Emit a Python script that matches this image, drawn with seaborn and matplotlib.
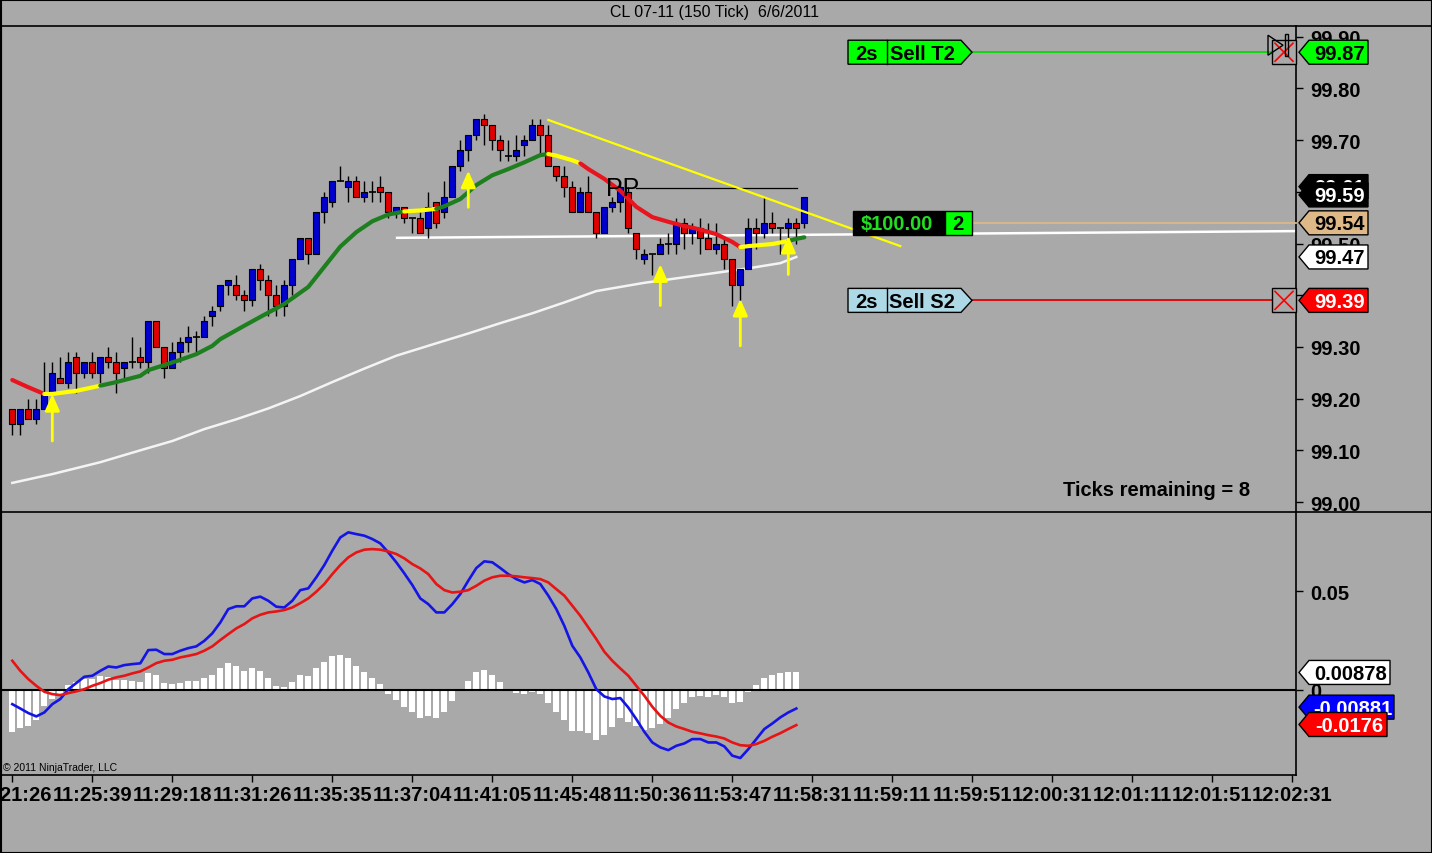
import numpy as np
import pandas as pd
import matplotlib
matplotlib.use("Agg")
import matplotlib.pyplot as plt
import seaborn as sns
from matplotlib import font_manager as fm
from matplotlib.patches import Polygon, Rectangle
from matplotlib.lines import Line2D
from matplotlib.transforms import IdentityTransform

# ---------------- data ----------------
opens = [99.18, 99.15, 99.18, 99.16, 99.18, 99.21, 99.24, 99.23, 99.28, 99.25,
         99.27, 99.25, 99.28, 99.27, 99.26, 99.27, 99.28, 99.27, 99.35, 99.30,
         99.26, 99.29, 99.31, 99.32, 99.32, 99.36, 99.38, 99.42, 99.42, 99.40,
         99.39, 99.45, 99.43, 99.40, 99.38, 99.42, 99.47, 99.51, 99.48, 99.56,
         99.58, 99.62, 99.61, 99.62, 99.59, 99.60, 99.61, 99.60, 99.56, 99.57,
         99.55, 99.55, 99.53, 99.58, 99.56, 99.59, 99.65, 99.68, 99.71, 99.74,
         99.73, 99.70, 99.67, 99.67, 99.69, 99.70, 99.73, 99.71, 99.65, 99.63,
         99.61, 99.56, 99.60, 99.56, 99.52, 99.57, 99.58, 99.60, 99.52, 99.47,
         99.48, 99.48, 99.50, 99.50, 99.54, 99.52, 99.53, 99.51, 99.49, 99.50,
         99.47, 99.42, 99.45, 99.53, 99.52, 99.54, 99.53, 99.53, 99.54, 99.54]
highs = [99.18, 99.18, 99.20, 99.20, 99.27, 99.27, 99.28, 99.29, 99.29, 99.27,
         99.29, 99.28, 99.30, 99.29, 99.27, 99.32, 99.30, 99.35, 99.35, 99.30,
         99.31, 99.32, 99.34, 99.33, 99.36, 99.38, 99.42, 99.43, 99.44, 99.41,
         99.45, 99.46, 99.44, 99.42, 99.43, 99.47, 99.51, 99.51, 99.56, 99.60,
         99.62, 99.65, 99.63, 99.63, 99.62, 99.62, 99.63, 99.60, 99.57, 99.57,
         99.55, 99.56, 99.60, 99.58, 99.62, 99.65, 99.70, 99.71, 99.74, 99.75,
         99.73, 99.71, 99.70, 99.71, 99.71, 99.74, 99.74, 99.73, 99.65, 99.65,
         99.62, 99.61, 99.63, 99.56, 99.57, 99.59, 99.62, 99.61, 99.52, 99.49,
         99.48, 99.51, 99.52, 99.55, 99.55, 99.54, 99.55, 99.54, 99.54, 99.51,
         99.47, 99.45, 99.55, 99.55, 99.59, 99.56, 99.53, 99.55, 99.55, 99.59]
lows = [99.13, 99.13, 99.16, 99.15, 99.18, 99.21, 99.23, 99.22, 99.21, 99.24,
        99.24, 99.23, 99.26, 99.21, 99.24, 99.26, 99.26, 99.25, 99.30, 99.24,
        99.26, 99.27, 99.29, 99.29, 99.32, 99.34, 99.37, 99.40, 99.39, 99.37,
        99.38, 99.41, 99.36, 99.36, 99.36, 99.40, 99.47, 99.46, 99.48, 99.54,
        99.57, 99.62, 99.58, 99.59, 99.58, 99.58, 99.58, 99.55, 99.55, 99.54,
        99.52, 99.52, 99.51, 99.53, 99.55, 99.59, 99.64, 99.66, 99.70, 99.69,
        99.68, 99.66, 99.66, 99.66, 99.67, 99.70, 99.67, 99.65, 99.62, 99.59,
        99.56, 99.56, 99.56, 99.51, 99.52, 99.56, 99.56, 99.52, 99.47, 99.46,
        99.44, 99.48, 99.48, 99.48, 99.49, 99.50, 99.48, 99.49, 99.48, 99.45,
        99.38, 99.39, 99.45, 99.49, 99.51, 99.52, 99.48, 99.51, 99.50, 99.53]
closes = [99.15, 99.18, 99.16, 99.18, 99.21, 99.25, 99.23, 99.27, 99.25, 99.27,
          99.25, 99.28, 99.27, 99.25, 99.27, 99.27, 99.27, 99.35, 99.30, 99.26,
          99.29, 99.31, 99.32, 99.32, 99.35, 99.37, 99.42, 99.43, 99.40, 99.39,
          99.45, 99.43, 99.40, 99.38, 99.42, 99.47, 99.51, 99.48, 99.56, 99.59,
          99.62, 99.62, 99.62, 99.59, 99.60, 99.60, 99.60, 99.56, 99.57, 99.55,
          99.55, 99.52, 99.57, 99.54, 99.59, 99.65, 99.68, 99.71, 99.74, 99.73,
          99.70, 99.68, 99.67, 99.68, 99.70, 99.73, 99.71, 99.65, 99.63, 99.61,
          99.56, 99.60, 99.56, 99.52, 99.57, 99.58, 99.61, 99.53, 99.49, 99.48,
          99.48, 99.50, 99.50, 99.54, 99.52, 99.53, 99.51, 99.49, 99.50, 99.47,
          99.42, 99.45, 99.53, 99.52, 99.54, 99.53, 99.53, 99.54, 99.53, 99.59]

# slope-coloured fast average (read at selected bars)
ema_bar = [0, 2, 4, 5, 8, 11, 13, 16, 17, 19, 21, 23, 25, 26, 29, 31, 34, 37, 39, 41,
           43, 45, 47, 49, 51, 53, 54, 56, 58, 60, 62, 64, 66, 67, 68, 70, 71, 72, 74,
           76, 78, 80, 82, 84, 86, 88, 90, 91, 92, 95, 97, 98, 99]
ema_val = [99.236, 99.222, 99.209, 99.209, 99.215, 99.225, 99.232, 99.244, 99.255,
           99.265, 99.275, 99.286, 99.302, 99.315, 99.341, 99.358, 99.383, 99.416,
           99.455, 99.494, 99.522, 99.543, 99.556, 99.562, 99.564, 99.567, 99.572,
           99.586, 99.613, 99.632, 99.644, 99.657, 99.671, 99.673, 99.670, 99.661,
           99.655, 99.644, 99.625, 99.602, 99.571, 99.551, 99.542, 99.534, 99.527,
           99.518, 99.503, 99.493, 99.495, 99.499, 99.505, 99.509, 99.512]
ema_seg_start = [0, 4, 11, 49, 53, 67, 71, 91, 97]
ema_seg_end = [4, 11, 49, 53, 67, 71, 91, 97, 99]
ema_seg_state = ["down", "flat", "up", "flat", "up", "flat", "down", "flat", "up"]

# slow average (white)
sma_bar = [0, 5, 11, 16, 20, 24, 28, 32, 36, 40, 44, 48, 53, 57, 61, 65, 69, 73, 79,
           86, 92, 96, 98]
sma_val = [99.037, 99.054, 99.077, 99.100, 99.118, 99.141, 99.160, 99.181, 99.205,
           99.232, 99.258, 99.283, 99.307, 99.326, 99.346, 99.365, 99.386, 99.408,
           99.424, 99.439, 99.452, 99.462, 99.474]

# signal arrows (bar, tip price, tail price)
arrow_bar = [5, 57, 81, 91, 97]
arrow_tip = [99.209, 99.641, 99.460, 99.393, 99.515]
arrow_tail = [99.118, 99.570, 99.380, 99.302, 99.440]

# drawn lines
trend_bar = [67, 111]
trend_price = [99.739, 99.495]
support_bar = [48.1, 160.5]
support_price = [99.511, 99.524]
pp_bar = [77.9, 98.1]
pp_price = [99.607, 99.607]

# MACD panel
macd_hist = [-0.0216, -0.0194, -0.0183, -0.0152, -0.0080, -0.0047, -0.0022, 0.0024, 0.0037, 0.0054,
             0.0054, 0.0068, 0.0063, 0.0051, 0.0049, 0.0046, 0.0041, 0.0085, 0.0076, 0.0034,
             0.0029, 0.0034, 0.0044, 0.0044, 0.0059, 0.0074, 0.0110, 0.0135, 0.0122, 0.0095,
             0.0110, 0.0095, 0.0059, 0.0020, 0.0012, 0.0041, 0.0074, 0.0071, 0.0110, 0.0142,
             0.0172, 0.0176, 0.0161, 0.0122, 0.0088, 0.0059, 0.0029, -0.0022, -0.0052, -0.0088,
             -0.0112, -0.0145, -0.0132, -0.0142, -0.0112, -0.0056, 0.0000, 0.0046, 0.0091, 0.0100,
             0.0076, 0.0041, 0.0003, -0.0014, -0.0019, -0.0010, -0.0019, -0.0069, -0.0112, -0.0152,
             -0.0208, -0.0208, -0.0221, -0.0254, -0.0230, -0.0191, -0.0145, -0.0162, -0.0186, -0.0203,
             -0.0196, -0.0174, -0.0145, -0.0095, -0.0069, -0.0039, -0.0030, -0.0035, -0.0024, -0.0035,
             -0.0069, -0.0064, -0.0010, 0.0024, 0.0059, 0.0076, 0.0085, 0.0088, 0.0088]
macd_line = [-0.0073, -0.0095, -0.0118, -0.0135, -0.0115, -0.0073, -0.0047, 0.0003, 0.0034, 0.0066,
             0.0071, 0.0096, 0.0118, 0.0113, 0.0125, 0.0130, 0.0134, 0.0201, 0.0203, 0.0181,
             0.0181, 0.0198, 0.0211, 0.0220, 0.0248, 0.0286, 0.0341, 0.0409, 0.0423, 0.0423,
             0.0463, 0.0472, 0.0451, 0.0421, 0.0417, 0.0451, 0.0505, 0.0514, 0.0570, 0.0632,
             0.0705, 0.0772, 0.0798, 0.0789, 0.0781, 0.0764, 0.0742, 0.0696, 0.0646, 0.0590,
             0.0531, 0.0463, 0.0434, 0.0392, 0.0392, 0.0434, 0.0485, 0.0553, 0.0617, 0.0651,
             0.0646, 0.0617, 0.0586, 0.0561, 0.0544, 0.0556, 0.0536, 0.0477, 0.0409, 0.0324,
             0.0223, 0.0164, 0.0088, 0.0003, -0.0034, -0.0047, -0.0042, -0.0090, -0.0149, -0.0213,
             -0.0267, -0.0292, -0.0306, -0.0284, -0.0272, -0.0250, -0.0250, -0.0267, -0.0267, -0.0287,
             -0.0334, -0.0346, -0.0301, -0.0250, -0.0199, -0.0171, -0.0140, -0.0115, -0.0095]
macd_avg = [0.0147, 0.0096, 0.0054, 0.0020, -0.0010, -0.0022, -0.0027, -0.0017, -0.0008, 0.0003,
            0.0020, 0.0034, 0.0051, 0.0063, 0.0071, 0.0083, 0.0093, 0.0113, 0.0135, 0.0147,
            0.0152, 0.0164, 0.0172, 0.0181, 0.0198, 0.0220, 0.0252, 0.0282, 0.0311, 0.0333,
            0.0362, 0.0380, 0.0392, 0.0397, 0.0404, 0.0417, 0.0439, 0.0463, 0.0497, 0.0536,
            0.0586, 0.0632, 0.0671, 0.0696, 0.0710, 0.0713, 0.0710, 0.0701, 0.0688, 0.0666,
            0.0637, 0.0615, 0.0586, 0.0536, 0.0505, 0.0493, 0.0497, 0.0505, 0.0527, 0.0553,
            0.0570, 0.0578, 0.0578, 0.0575, 0.0570, 0.0566, 0.0561, 0.0544, 0.0510, 0.0477,
            0.0426, 0.0375, 0.0316, 0.0257, 0.0193, 0.0147, 0.0108, 0.0071, 0.0020, -0.0030,
            -0.0086, -0.0132, -0.0166, -0.0186, -0.0199, -0.0213, -0.0221, -0.0230, -0.0237, -0.0247,
            -0.0267, -0.0281, -0.0284, -0.0275, -0.0259, -0.0238, -0.0220, -0.0199, -0.0179]

time_ticks = list(range(0, 161, 10))
time_labels = ["11:21:26", "11:25:39", "11:29:18", "11:31:26", "11:35:35", "11:37:04",
               "11:41:05", "11:45:48", "11:50:36", "11:53:47", "11:58:31", "11:59:11",
               "11:59:51", "12:00:31", "12:01:11", "12:01:51", "12:02:31"]
price_ticks = [99.00, 99.10, 99.20, 99.30, 99.40, 99.50, 99.60, 99.70, 99.80, 99.90]
macd_ticks = [0.0, 0.05]
macd_tick_labels = ["0", "0.05"]

# right-axis markers (price, text, face, text colour)
price_tags = [(99.87, "99.87", "#00FF00", "black"),
              (99.61, "99.61", "black", "white"),
              (99.594, "99.59", "black", "white"),
              (99.54, "99.54", "#DEB887", "black"),
              (99.474, "99.47", "white", "black"),
              (99.39, "99.39", "#FF0000", "white")]
macd_tags = [(0.00878, "0.00878", "white", "black", 1390),
             (-0.00881, "-0.00881", "#0000FF", "white", 1394),
             (-0.0176, "-0.0176", "#FF0000", "white", 1387)]
target_price = 99.87
stop_price = 99.39
position_price = 99.54

# ---------------- styling ----------------
BG = "#A9A9A9"
UP = "#0000D0"
DN = "#E00000"
STATE_COL = {"up": "#1E7F1E", "flat": "#FFFF00", "down": "#E8141E"}


def has_font(name):
    try:
        fm.findfont(fm.FontProperties(family=name), fallback_to_default=False)
        return True
    except Exception:
        return False


NARROW = has_font("Liberation Sans Narrow")
BF = ["Liberation Sans Narrow", "Liberation Sans", "DejaVu Sans"] if NARROW else ["Liberation Sans", "DejaVu Sans"]
BS = 17 if NARROW else 14.5
RF = ["Liberation Sans", "DejaVu Sans"]

W, H = 1432, 854
fig = plt.figure(figsize=(W / 100, H / 100), dpi=100, facecolor=BG)
ax = fig.add_axes([0, 1 - 513 / H, 1296 / W, (513 - 27) / H], facecolor=BG)
ax2 = fig.add_axes([0, 1 - 776 / H, 1296 / W, (776 - 513) / H], facecolor=BG, sharex=ax)

XMIN, XMAX = -1.5375, 160.46
ax.set_xlim(XMIN, XMAX)
ax.set_ylim(98.9807, 99.9207)
ax2.set_ylim(-0.0432, 0.0901)
for a in (ax, ax2):
    for s in a.spines.values():
        s.set_visible(False)

# ---------------- candles ----------------
df = pd.DataFrame(dict(b=np.arange(len(opens)), o=opens, hi=highs, lo=lows, c=closes))
up = df.c > df.o
dn = df.c < df.o
dj = df.c == df.o
ax.vlines(df.b, df.lo, df.hi, color="black", lw=1, zorder=3)
ax.bar(df.b[up], (df.c - df.o)[up], bottom=df.o[up], width=0.74,
       color=UP, edgecolor="black", lw=0.8, zorder=4)
ax.bar(df.b[dn], (df.o - df.c)[dn], bottom=df.c[dn], width=0.74,
       color=DN, edgecolor="black", lw=0.8, zorder=4)
ax.hlines(df.c[dj], df.b[dj] - 0.42, df.b[dj] + 0.42, color="black", lw=1.2, zorder=4)

# ---------------- averages ----------------
sma_df = pd.DataFrame(dict(b=sma_bar, v=sma_val))
sns.lineplot(data=sma_df, x="b", y="v", ax=ax, color="#F4F4F4", lw=1.8, zorder=2, legend=False)

ema_df = pd.DataFrame(dict(b=ema_bar, v=ema_val))
for s, e, st in zip(ema_seg_start, ema_seg_end, ema_seg_state):
    sub = ema_df[(ema_df.b >= s) & (ema_df.b <= e)]
    sns.lineplot(data=sub, x="b", y="v", ax=ax, color=STATE_COL[st], lw=3.0, zorder=5,
                 legend=False, solid_capstyle="round")

# drawn lines
sns.lineplot(x=trend_bar, y=trend_price, ax=ax, color="#FFFF00", lw=1.6, zorder=5)
sns.lineplot(x=support_bar, y=support_price, ax=ax, color="white", lw=1.8, zorder=2)
sns.lineplot(x=pp_bar, y=pp_price, ax=ax, color="black", lw=0.9, zorder=2)
ax.text(74.2, pp_price[0], "PP", fontsize=18, family=RF, color="black", ha="left",
        va="center", zorder=6)

# arrows
for b, t, tl in zip(arrow_bar, arrow_tip, arrow_tail):
    ax.annotate("", xy=(b, t), xytext=(b, tl),
                arrowprops=dict(arrowstyle="-|>,head_width=0.22,head_length=0.5",
                                color="#FFFF00", lw=2, mutation_scale=20, shrinkA=0, shrinkB=0),
                zorder=7)

ax.set_xlabel("")
ax.set_ylabel("")
ax.tick_params(axis="x", bottom=False, labelbottom=False)
ax.yaxis.tick_right()
ax.set_yticks(price_ticks)
ax.set_yticklabels([f"{v:.2f}" for v in price_ticks])
ax.tick_params(axis="y", length=5, width=1, pad=5, colors="black", labelsize=BS)
for lb in ax.get_yticklabels():
    lb.set_fontfamily(BF)
    lb.set_fontweight("bold")

# ---------------- MACD panel ----------------
mdf = pd.DataFrame(dict(b=np.arange(len(macd_hist)), hv=macd_hist, m=macd_line, sg=macd_avg))
ax2.bar(mdf.b, mdf.hv, width=0.74, color="white", zorder=2)
ax2.axhline(0, color="black", lw=1.5, zorder=3)
sns.lineplot(data=mdf, x="b", y="m", ax=ax2, color="#1414E6", lw=1.9, zorder=4, legend=False)
sns.lineplot(data=mdf, x="b", y="sg", ax=ax2, color="#E61414", lw=1.9, zorder=4, legend=False)
ax2.set_xlim(XMIN, XMAX)
ax2.set_xlabel("")
ax2.set_ylabel("")
ax2.yaxis.tick_right()
ax2.set_yticks(macd_ticks)
ax2.set_yticklabels(macd_tick_labels)
ax2.tick_params(axis="y", length=5, width=1, pad=5, colors="black", labelsize=BS)
ax2.set_xticks(time_ticks)
ax2.set_xticklabels(time_labels)
ax2.tick_params(axis="x", length=5, width=1, pad=2, colors="black", labelsize=BS, direction="out")
for lb in ax2.get_yticklabels() + ax2.get_xticklabels():
    lb.set_fontfamily(BF)
    lb.set_fontweight("bold")

# ---------------- decorations (pixel space) ----------------
ID = IdentityTransform()


def dy(a, v):
    return a.transData.transform((0, v))[1]


def fline(xs, ys, color="black", lw=1.0, z=8):
    fig.add_artist(Line2D(xs, [H - y for y in ys], color=color, lw=lw, transform=ID, zorder=z))


# frame lines
fline([0, W], [27, 27], lw=1.2)
fline([0, W], [513, 513], lw=1.2)
fline([1296, 1296], [27, 776], lw=1.2)
fline([0, 1296], [776, 776], lw=1.2)
fline([0.5, 0.5], [27, 776], lw=1.5)
fig.add_artist(Rectangle((0.5, 0.5), W - 1, H - 1, fill=False, ec="black", lw=1.5, transform=ID, zorder=8))


def tag(a, v, text, fc, tc, x1=1368, z=10):
    y = dy(a, v)
    h = 12
    pts = [(1299, y), (1309, y + h), (x1, y + h), (x1, y - h), (1309, y - h)]
    fig.add_artist(Polygon(pts, closed=True, facecolor=fc, edgecolor="black", lw=1,
                           transform=ID, zorder=z))
    fig.text((1309 + x1) / 2 + 1, y - 1, text, transform=ID, ha="center", va="center",
             color=tc, fontsize=BS, fontweight="bold", family=BF, zorder=z + 0.5)


for i, (v, t, fc, tc) in enumerate(price_tags):
    tag(ax, v, t, fc, tc, z=10 + i)
for i, (v, t, fc, tc, x1) in enumerate(macd_tags):
    tag(ax2, v, t, fc, tc, x1=x1, z=20 + i)


def order_box(v, left, right, fc, lc):
    y = dy(ax, v)
    h = 12
    pts = [(848, y - h), (848, y + h), (961, y + h), (972, y), (961, y - h)]
    fig.add_artist(Polygon(pts, closed=True, facecolor=fc, edgecolor="black", lw=1, transform=ID, zorder=9))
    fig.add_artist(Line2D([887, 887], [y - h, y + h], color="black", lw=1, transform=ID, zorder=9.5))
    fig.text(867, y - 1, left, transform=ID, ha="center", va="center", fontsize=BS,
             fontweight="bold", family=BF, color="black", zorder=9.6)
    fig.text(922, y - 1, right, transform=ID, ha="center", va="center", fontsize=BS,
             fontweight="bold", family=BF, color="black", zorder=9.6)
    fig.add_artist(Line2D([972, 1272], [y, y], color=lc, lw=1.3, transform=ID, zorder=8.5))
    fig.add_artist(Rectangle((1272, y - 12), 24, 24, fc=BG, ec="black", lw=1, transform=ID, zorder=9))
    fig.add_artist(Line2D([1275, 1293], [y - 9, y + 9], color="#FF0000", lw=1.2, transform=ID, zorder=9.5))
    fig.add_artist(Line2D([1275, 1293], [y + 9, y - 9], color="#FF0000", lw=1.2, transform=ID, zorder=9.5))
    return y


yt = order_box(target_price, "2s", "Sell T2", "#00FF00", "#00DD00")
order_box(stop_price, "2s", "Sell S2", "#ADD8E6", "#E00000")
fig.add_artist(Polygon([(1268, yt + 17), (1268, yt - 3), (1283, yt + 7)], closed=True, fill=False,
                       ec="black", lw=1, transform=ID, zorder=9.7))
fig.add_artist(Rectangle((1285, yt - 4), 3, 22, fill=False, ec="black", lw=1, transform=ID, zorder=9.7))

# position box
yp = dy(ax, position_price)
fig.add_artist(Line2D([972, 1296], [yp, yp], color="#DEB887", lw=1.3, transform=ID, zorder=8.5))
fig.add_artist(Rectangle((853, yp - 12), 92, 24, fc="black", ec="black", lw=1, transform=ID, zorder=9))
fig.add_artist(Rectangle((945, yp - 12), 27, 24, fc="#00FF00", ec="black", lw=1, transform=ID, zorder=9))
fig.text(897, yp - 1, "$100.00", transform=ID, ha="center", va="center", fontsize=BS,
         fontweight="bold", family=BF, color="#22DD22", zorder=9.6)
fig.text(958, yp - 1, "2", transform=ID, ha="center", va="center", fontsize=BS,
         fontweight="bold", family=BF, color="black", zorder=9.6)

# texts
fig.text(W / 2 - 1, H - 13, "CL 07-11 (150 Tick)  6/6/2011", transform=ID, ha="center", va="center",
         fontsize=11.5, family=RF, color="black")
fig.text(1063, H - 491, "Ticks remaining = 8", transform=ID, ha="left", va="center",
         fontsize=BS, fontweight="bold", family=BF, color="black", zorder=9)
fig.text(3, H - 768, "\u00a9 2011 NinjaTrader, LLC", transform=ID, ha="left", va="center",
         fontsize=7.5, family=RF, color="black", zorder=9)

fig.savefig("out.png", dpi=100, facecolor=BG)
